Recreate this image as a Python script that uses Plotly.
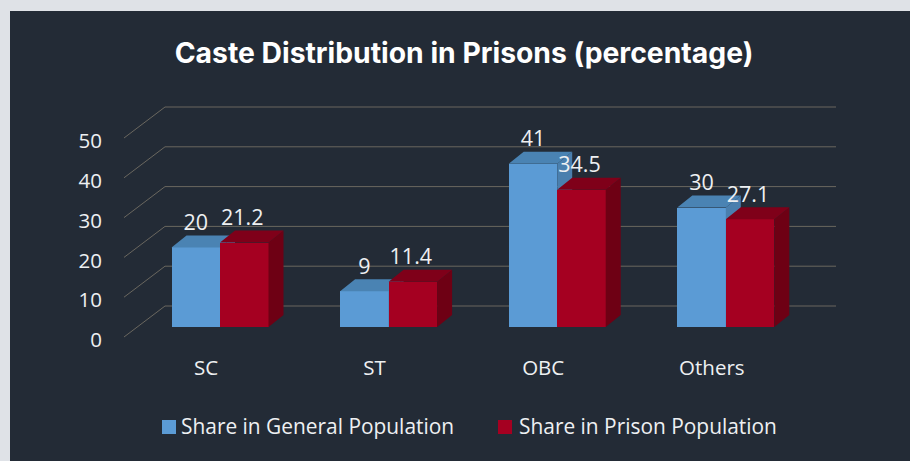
import plotly.graph_objects as go

categories = ["SC", "ST", "OBC", "Others"]
general = [20, 9, 41, 30]
prison = [21.2, 11.4, 34.5, 27.1]
general_text = ["20", "9", "41", "30"]
prison_text = ["21.2", "11.4", "34.5", "27.1"]
y_ticks = [0, 10, 20, 30, 40, 50]
series_names = ["Share in General Population", "Share in Prison Population"]

W, H = 910, 461
PX_CAT = 168.6      # px per category
PX_VAL = 3.98       # px per value unit
X0_PX = 220         # px of first category centre
Y0_PX = 327         # px of value 0 at bar front
PLOT_L, PLOT_R, PLOT_T, PLOT_B = 103, 860, 90, 353

xr = [(PLOT_L - X0_PX) / PX_CAT, (PLOT_R - X0_PX) / PX_CAT]
yr = [(Y0_PX - PLOT_B) / PX_VAL, (Y0_PX - PLOT_T) / PX_VAL]
dx = lambda px: px / PX_CAT
dy = lambda px: px / PX_VAL

BAR_W = dx(48.5)
DEPTH_X, DEPTH_Y = dx(15), dy(12)

BG = "#232b36"
PAGE = "#dfe2e7"
TXT = "#eef0f2"
GRID = "#6a675f"
BLUE, BLUE_TOP, BLUE_SIDE = "#5b9bd5", "#4a83b3", "#4a7fae"
RED, RED_TOP, RED_SIDE = "#a50021", "#7f0019", "#6e0014"
FONT = "Open Sans"


def faces(values, left_off):
    top_x, top_y, side_x, side_y = [], [], [], []
    for i, v in enumerate(values):
        l = i + left_off
        r = l + BAR_W
        top_x += [l, l + DEPTH_X, r + DEPTH_X, r, l, None]
        top_y += [v, v + DEPTH_Y, v + DEPTH_Y, v, v, None]
        side_x += [r, r + DEPTH_X, r + DEPTH_X, r, r, None]
        side_y += [v, v + DEPTH_Y, DEPTH_Y, 0, v, None]
    return top_x, top_y, side_x, side_y


def poly(x, y, color, xa, ya):
    return go.Scatter(x=x, y=y, mode="lines", fill="toself", fillcolor=color,
                      line=dict(width=0, color=color), hoverinfo="skip",
                      showlegend=False, xaxis=xa, yaxis=ya)


fig = go.Figure()
idx = list(range(len(categories)))

# Blue series on the base subplot
fig.add_trace(go.Bar(x=idx, y=general, width=BAR_W, offset=-BAR_W, name=series_names[0],
                     showlegend=False, marker=dict(color=BLUE, line=dict(width=0))))
tx, ty, sx, sy = faces(general, -BAR_W)
fig.add_trace(poly(sx, sy, BLUE_SIDE, "x", "y"))
fig.add_trace(poly(tx, ty, BLUE_TOP, "x", "y"))

# Red series on an overlaid subplot so that it covers the blue depth faces
fig.add_trace(go.Bar(x=idx, y=prison, width=BAR_W, offset=0, name=series_names[1],
                     showlegend=False, marker=dict(color=RED, line=dict(width=0)),
                     xaxis="x2", yaxis="y2"))
tx, ty, sx, sy = faces(prison, 0)
fig.add_trace(poly(sx, sy, RED_SIDE, "x2", "y2"))
fig.add_trace(poly(tx, ty, RED_TOP, "x2", "y2"))

# Value labels
lab_font = dict(family=FONT, size=21.5, color=TXT)
LABEL_UP = dy(23)
fig.add_trace(go.Scatter(
    x=[i - BAR_W / 2 for i in idx], y=[v + LABEL_UP for v in general],
    text=general_text, mode="text", textposition="middle center", textfont=lab_font,
    showlegend=False, hoverinfo="skip", xaxis="x2", yaxis="y2"))
fig.add_trace(go.Scatter(
    x=[i + BAR_W / 2 - dx(2) for i in idx], y=[v + LABEL_UP for v in prison],
    text=prison_text, mode="text", textposition="middle center", textfont=lab_font,
    showlegend=False, hoverinfo="skip", xaxis="x2", yaxis="y2"))

# Walls: panel and gridlines
shapes = [dict(type="rect", xref="paper", yref="paper", x0=10 / W, x1=1, y0=0, y1=1 - 11 / H,
               fillcolor=BG, line=dict(width=0), layer="below")]
WALL_DY = dy(21)      # back wall zero is above the bar front zero
FLOOR_DY = dy(-10)    # front edge of floor is below it
LABEL_DY = dy(-13)    # axis labels sit just below the floor edge
for t in y_ticks:
    shapes.append(dict(type="line", xref="x", yref="y", layer="below",
                       x0=dx(165 - X0_PX), x1=dx(836 - X0_PX),
                       y0=t + WALL_DY, y1=t + WALL_DY, line=dict(color=GRID, width=1)))
    shapes.append(dict(type="line", xref="x", yref="y", layer="below",
                       x0=dx(124 - X0_PX), x1=dx(165 - X0_PX),
                       y0=t + FLOOR_DY, y1=t + WALL_DY, line=dict(color=GRID, width=1)))

# Legend: square swatches with text close beside them
legend_items = [(162, 181, BLUE), (498, 519, RED)]
annotations = []
for name, (sw_px, txt_px, col) in zip(series_names, legend_items):
    shapes.append(dict(type="rect", xref="paper", yref="paper", layer="above",
                       x0=sw_px / W, x1=(sw_px + 14) / W,
                       y0=1 - 434 / H, y1=1 - 420 / H, fillcolor=col, line=dict(width=0)))
    annotations.append(dict(text=name, xref="paper", yref="paper", showarrow=False,
                            x=txt_px / W, xanchor="left", xshift=-2, y=1 - 426 / H, yanchor="middle",
                            font=dict(family=FONT, size=20.9, color=TXT)))

dom_x = [PLOT_L / W, PLOT_R / W]
dom_y = [1 - PLOT_B / H, 1 - PLOT_T / H]
ax_font = dict(family=FONT, size=20.5, color=TXT)

fig.update_layout(
    width=W, height=H, margin=dict(l=0, r=0, t=0, b=0, pad=0),
    paper_bgcolor=PAGE, plot_bgcolor="rgba(0,0,0,0)",
    shapes=shapes, annotations=annotations, showlegend=False,
    title=dict(text="<b>Caste Distribution in Prisons (percentage)</b>",
               x=464 / W, xanchor="center", y=1 - 53 / H, yanchor="middle",
               font=dict(family="Inter", size=28.3, color="#ffffff")),
    xaxis=dict(domain=dom_x, range=xr, showgrid=False, zeroline=False, showline=False,
               tickmode="array", tickvals=[i - dx(14) for i in idx], ticktext=categories,
               tickfont=ax_font, ticks=""),
    yaxis=dict(domain=dom_y, range=yr, showgrid=False, zeroline=False, showline=False,
               tickmode="array", tickvals=[t + LABEL_DY for t in y_ticks],
               ticktext=[str(t) for t in y_ticks], tickfont=ax_font, ticks=""),
    xaxis2=dict(overlaying="x", range=xr, visible=False),
    yaxis2=dict(overlaying="y", range=yr, visible=False),
    bargap=0,
)
fig.write_html("out.html", config=dict(displayModeBar=False),
               post_script="document.body.style.margin='0';")
